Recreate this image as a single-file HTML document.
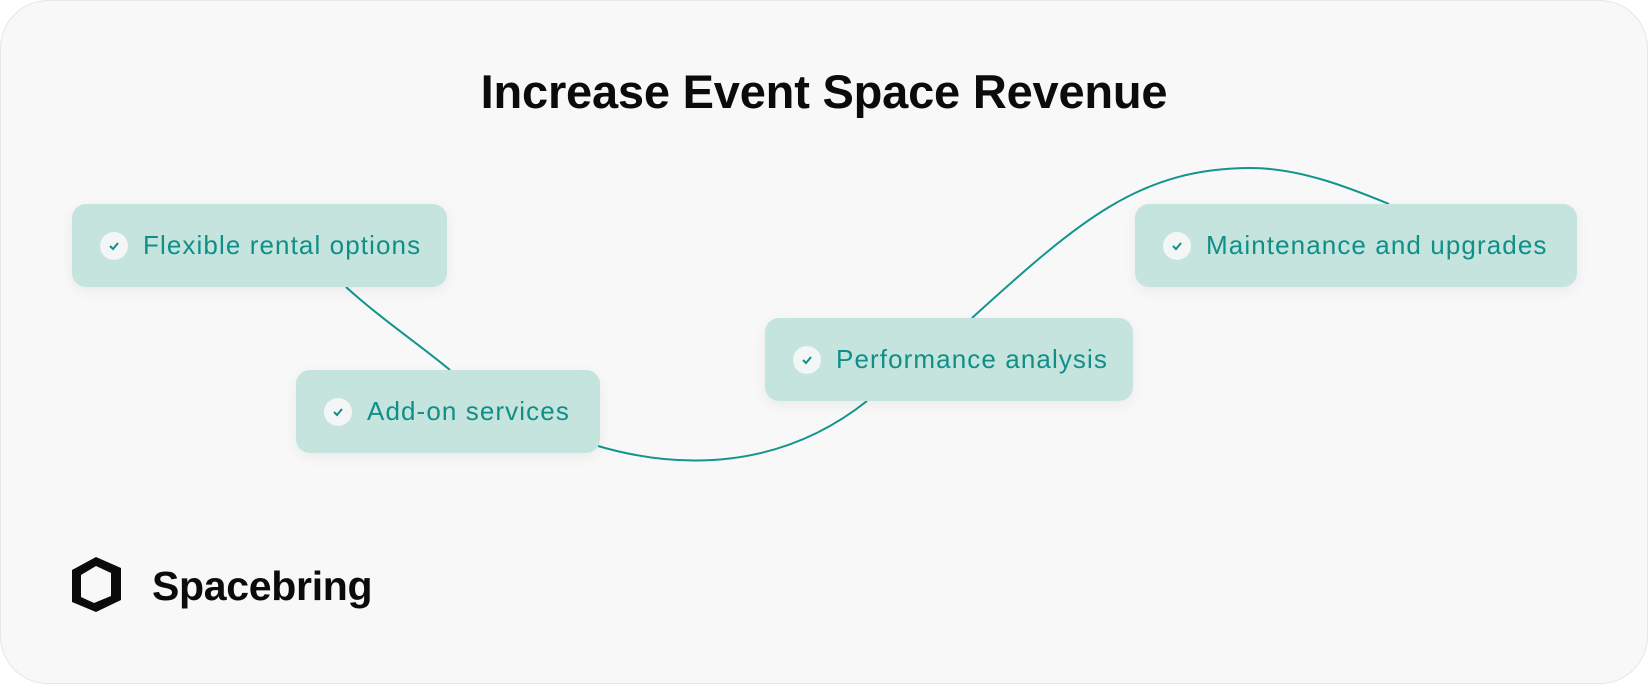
<!DOCTYPE html>
<html><head><meta charset="utf-8"><style>
html,body{margin:0;padding:0;width:1648px;height:684px;background:#fff;overflow:hidden}
.card{position:absolute;left:0;top:0;width:1646px;height:682px;border:1px solid #e6e6e6;border-radius:48px;background:#f8f8f8}
.title{position:absolute;left:0;width:1648px;top:64px;text-align:center;font:600 47px "Liberation Sans",sans-serif;color:#0b0b0b;letter-spacing:-0.2px}
.node{position:absolute;background:#c5e4de;border-radius:14px;box-shadow:0 4px 14px rgba(0,0,0,0.06);font:26px "Liberation Sans",sans-serif;letter-spacing:1.1px;color:#0f8f88;display:flex;align-items:center;box-sizing:border-box;padding-left:28px}
.chk{width:28px;height:28px;border-radius:50%;background:#f4f6f5;margin-right:15px;display:flex;align-items:center;justify-content:center}
.logo{position:absolute;left:152px;top:563px;font:600 41px "Liberation Sans",sans-serif;color:#0b0b0b;letter-spacing:-0.3px}
</style></head><body>
<div class="card"></div>
<div class="title">Increase Event Space Revenue</div>
<svg width="1648" height="684" style="position:absolute;left:0;top:0">
<path d="M346 287 C380 318 420 345 450 370" stroke="#12958d" stroke-width="2" fill="none"/>
<path d="M598 446 C680 470 780 470 867 401" stroke="#12958d" stroke-width="2" fill="none"/>
<path d="M972 318 C1080 220 1140 168 1251 168 C1300 168 1350 188 1389 204" stroke="#12958d" stroke-width="2" fill="none"/>
<path d="M72 570 L96 557 L121 568 L121 600 L96 612 L72 602 Z M81 575 L81 597 L94 603 L111 596 L111 573 L96 566 Z" fill="#0b0b0b" fill-rule="evenodd"/>
</svg>
<div class="node" style="left:72px;top:204px;width:375px;height:83px"><div class="chk"><svg width="14" height="14"><path d="M3 7 L6 10 L11 4" stroke="#0f8f88" stroke-width="2" fill="none"/></svg></div>Flexible rental options</div>
<div class="node" style="left:296px;top:370px;width:304px;height:83px"><div class="chk"><svg width="14" height="14"><path d="M3 7 L6 10 L11 4" stroke="#0f8f88" stroke-width="2" fill="none"/></svg></div>Add-on services</div>
<div class="node" style="left:765px;top:318px;width:368px;height:83px"><div class="chk"><svg width="14" height="14"><path d="M3 7 L6 10 L11 4" stroke="#0f8f88" stroke-width="2" fill="none"/></svg></div>Performance analysis</div>
<div class="node" style="left:1135px;top:204px;width:442px;height:83px"><div class="chk"><svg width="14" height="14"><path d="M3 7 L6 10 L11 4" stroke="#0f8f88" stroke-width="2" fill="none"/></svg></div>Maintenance and upgrades</div>
<div class="logo">Spacebring</div>
</body></html>
